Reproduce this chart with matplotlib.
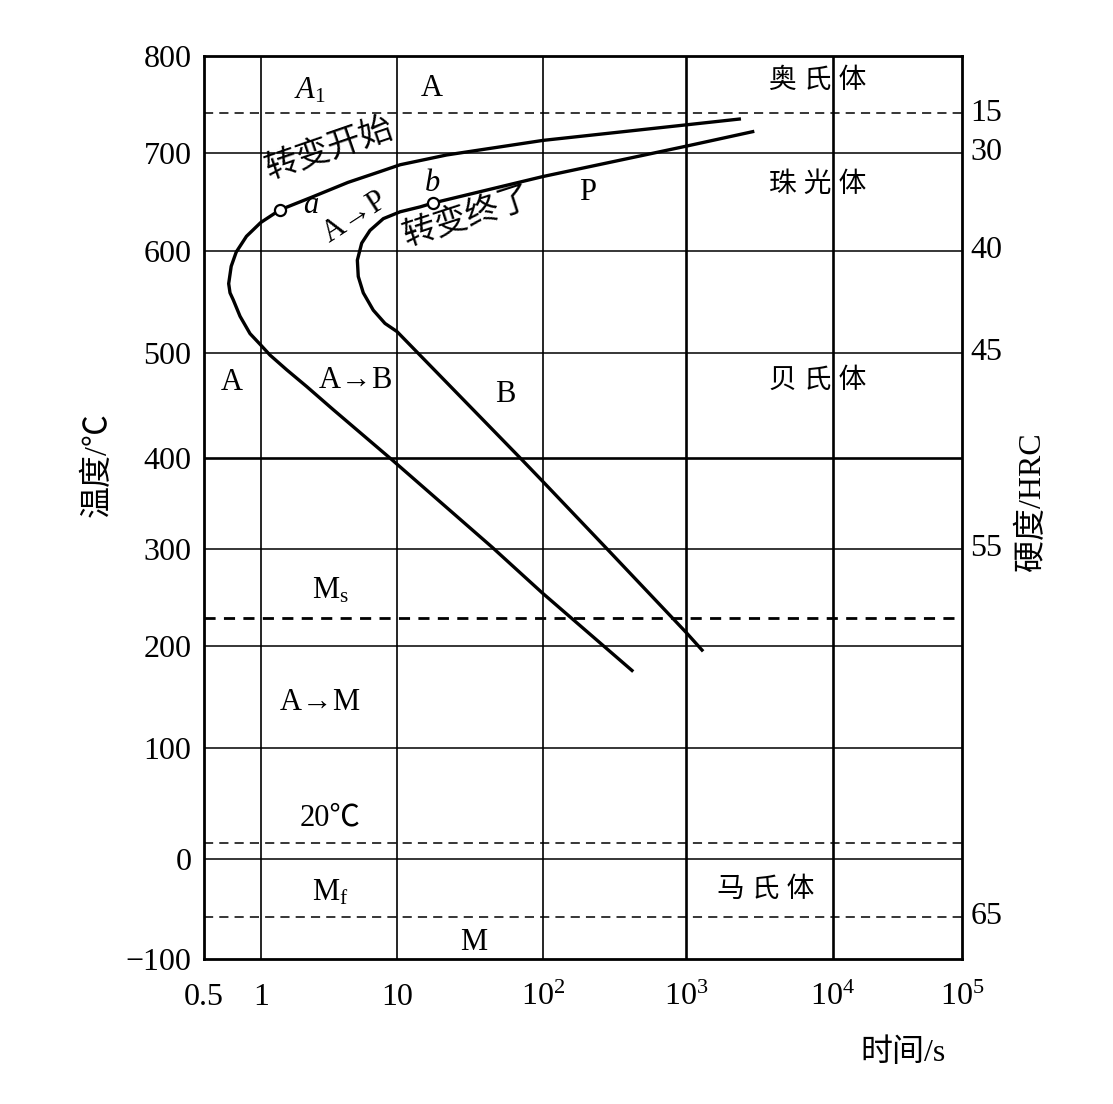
import numpy as np
import matplotlib
matplotlib.use('Agg')
import matplotlib.pyplot as plt

plt.rcParams['font.family'] = ['Liberation Serif', 'Noto Sans CJK SC']
plt.rcParams['mathtext.fontset'] = 'custom'
plt.rcParams['mathtext.rm'] = 'Liberation Serif'
plt.rcParams['mathtext.it'] = 'Liberation Serif:italic'

# --- data ---
# start of transformation (time in s, temperature in C)
start_time = [2305, 1000, 100, 21.9, 10.5, 7.50, 4.36, 2.37, 1.38, 0.996, 0.838,
              0.740, 0.696, 0.675, 0.686, 0.714, 0.775, 0.875, 0.995, 1.165, 1.545,
              2.17, 3.40, 9.19, 44.8, 98.4, 419]
start_temp = [735, 729, 713, 698, 688, 681, 670, 655, 642, 629, 615,
              599, 585, 568, 559, 552, 536, 519, 508, 498, 484,
              468, 446, 398, 302, 255, 176]
# end of transformation
end_time = [2842, 1000, 100, 17.7, 14.4, 10.5, 7.93, 6.33, 5.50, 5.11, 5.19,
            5.65, 6.69, 8.16, 10.0, 71.8, 100, 285, 1016, 1285]
end_temp = [722, 707, 676, 649, 645, 640, 633, 621, 608, 591, 575,
            559, 542, 529, 521, 398, 374, 299, 213, 196]

point_a = (1.38, 642)
point_b = (17.7, 649)

# critical temperatures (dashed lines)
a1_temp = 741
ms_temp = 229
room_temp = 14
mf_temp = -58

# hardness scale on the right
hrc_labels = ['15', '30', '40', '45', '55', '65']
hrc_temps = [741, 700, 600, 500, 300, -58]

x_ticks = [0.5, 1, 10, 100, 1000, 1e4, 1e5]
x_tick_labels = ['0.5', '1', '10', r'$\mathregular{10^2}$', r'$\mathregular{10^3}$',
                 r'$\mathregular{10^4}$', r'$\mathregular{10^5}$']
y_ticks = [-100, 0, 100, 200, 300, 400, 500, 600, 700, 800]
y_tick_labels = ['\u2212100', '0', '100', '200', '300', '400', '500', '600', '700', '800']

# the printed grid is not evenly spaced, so map ticks to the printed spacing
x_pix = [0, 57, 193, 339, 482, 629, 758]
y_pix = [0, 100, 211, 313, 410, 501, 606, 708, 806, 903]


def fwd_x(x):
    x = np.clip(np.asarray(x, dtype=float), 1e-9, None)
    return np.interp(np.log10(x), np.log10(x_ticks), x_pix)


def inv_x(p):
    return 10 ** np.interp(p, x_pix, np.log10(x_ticks))


def fwd_y(y):
    return np.interp(y, y_ticks, y_pix)


def inv_y(p):
    return np.interp(p, y_pix, y_ticks)


W, H = 1113, 1104
fig = plt.figure(figsize=(W / 100, H / 100), dpi=100)
ax = fig.add_axes([204 / W, 145 / H, 758 / W, 903 / H])
ax.set_xscale('function', functions=(fwd_x, inv_x))
ax.set_yscale('function', functions=(fwd_y, inv_y))
ax.set_xlim(0.5, 1e5)
ax.set_ylim(-100, 800)

# grid
for t in [1, 10, 100, 1000, 1e4]:
    ax.axvline(t, color='black', lw=1.9 if t >= 1000 else 1.2, zorder=1)
for t in [0, 100, 200, 300, 400, 500, 600, 700]:
    ax.axhline(t, color='black', lw=1.9 if t == 400 else 1.1, zorder=1)

ax.axhline(a1_temp, color='black', lw=1.1, ls=(0, (6, 4)), zorder=1)
ax.axhline(ms_temp, color='black', lw=2.0, ls=(0, (4, 3)), zorder=1)
ax.axhline(room_temp, color='black', lw=1.1, ls=(0, (6, 4)), zorder=1)
ax.axhline(mf_temp, color='black', lw=1.1, ls=(0, (6, 4)), zorder=1)

# C-curves
ax.plot(start_time, start_temp, color='black', lw=2.4, solid_joinstyle='round', zorder=3)
ax.plot(end_time, end_temp, color='black', lw=2.4, solid_joinstyle='round', zorder=3)
for p in (point_a, point_b):
    ax.plot(*p, 'o', ms=8, mfc='white', mec='black', mew=1.6, zorder=4)

for s in ax.spines.values():
    s.set_linewidth(2.0)

ax.set_xticks(x_ticks)
ax.set_xticklabels(x_tick_labels)
ax.set_yticks(y_ticks)
ax.set_yticklabels(y_tick_labels)
ax.tick_params(axis='both', length=0, labelsize=23)
ax.tick_params(axis='x', pad=17)
ax.tick_params(axis='y', pad=9)
ax.minorticks_off()

# hardness on the right
for lab, t in zip(hrc_labels, hrc_temps):
    ax.text(1.011, t, lab, transform=ax.get_yaxis_transform(), ha='left', va='center',
            fontsize=23)

cjk = 20
lat = 22
arrow = r'$\mathregular{%s\!\rightarrow\!%s}$'
ax.text(2.29, 764, r'$A_1$', ha='center', va='center', fontsize=lat)
ax.text(17.4, 766, 'A', ha='center', va='center', fontsize=lat)
ax.text(7900, 774, '奥 氏 体', ha='center', va='center', fontsize=cjk)
ax.text(3.22, 703, '转变开始', ha='center', va='center', fontsize=24, rotation=19)
ax.text(2.33, 646, r'$a$', ha='center', va='center', fontsize=lat)
ax.text(4.91, 634, arrow % ('A', 'P'), ha='center', va='center', fontsize=lat, rotation=33)
ax.text(17.4, 669, r'$b$', ha='center', va='center', fontsize=lat)
ax.text(30.6, 634, '转变终了', ha='center', va='center', fontsize=24, rotation=18)
ax.text(206, 660, 'P', ha='center', va='center', fontsize=lat)
ax.text(7900, 667, '珠 光 体', ha='center', va='center', fontsize=cjk)
ax.text(0.698, 472, 'A', ha='center', va='center', fontsize=lat)
ax.text(4.91, 474, arrow % ('A', 'B'), ha='center', va='center', fontsize=lat)
ax.text(55, 460, 'B', ha='center', va='center', fontsize=lat)
ax.text(7900, 473, '贝 氏 体', ha='center', va='center', fontsize=cjk)
ax.text(3.22, 257, r'$\mathregular{M_s}$', ha='center', va='center', fontsize=lat)
ax.text(2.72, 145, arrow % ('A', 'M'), ha='center', va='center', fontsize=lat)
ax.text(3.22, 37, '20℃', ha='center', va='center', fontsize=lat)
ax.text(3.22, -34, r'$\mathregular{M_f}$', ha='center', va='center', fontsize=lat)
ax.text(3500, -31, '马 氏 体', ha='center', va='center', fontsize=cjk)
ax.text(33.6, -84, 'M', ha='center', va='center', fontsize=lat)

ax.text(0.922, -0.104, '时间/s', transform=ax.transAxes, ha='center', va='center', fontsize=23)
ax.text(-0.140, 0.548, '温度/℃', transform=ax.transAxes, ha='center', va='center',
        fontsize=23, rotation=90)
ax.text(1.0925, 0.506, '硬度/HRC', transform=ax.transAxes, ha='center', va='center',
        fontsize=23, rotation=90)

fig.savefig('out.png', dpi=100)
